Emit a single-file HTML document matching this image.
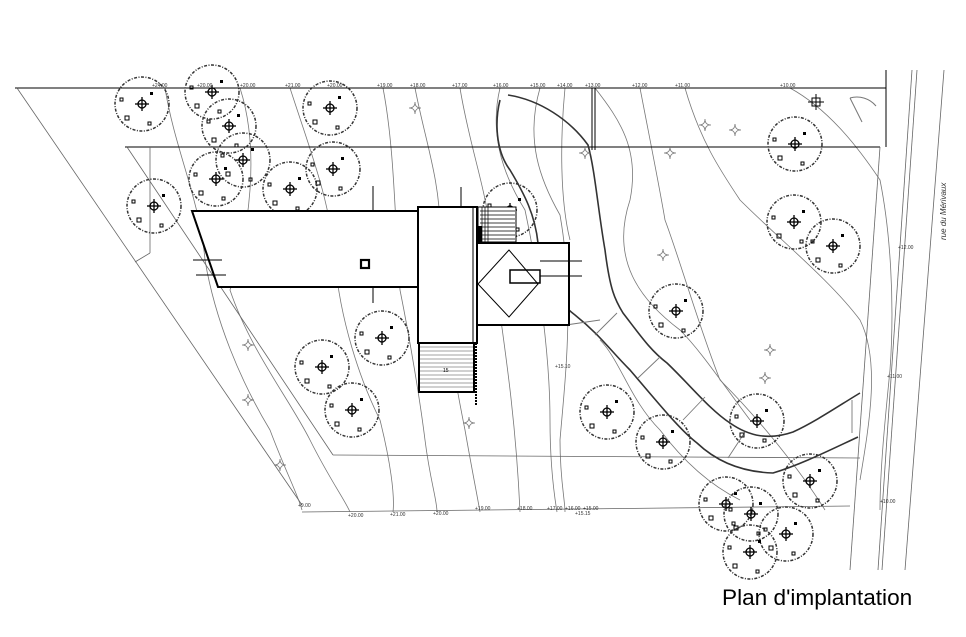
<!DOCTYPE html>
<html><head><meta charset="utf-8"><style>
html,body{margin:0;padding:0;background:#fff;}
svg{display:block;}
</style></head><body>
<svg width="966" height="637" viewBox="0 0 966 637" xmlns="http://www.w3.org/2000/svg">
<defs>
<g id="tr">
<circle r="27" fill="none" stroke="#333" stroke-width="1.5" stroke-dasharray="3 1.5 1 1.5"/>
<circle r="4" fill="none" stroke="#000" stroke-width="1.3"/>
<line x1="-7" y1="0" x2="7" y2="0" stroke="#000" stroke-width="1.3"/>
<line x1="0" y1="-7" x2="0" y2="7" stroke="#000" stroke-width="1.3"/>
<rect x="-17" y="12" width="4" height="4" fill="none" stroke="#000"/>
<rect x="8" y="-12" width="3" height="3" fill="#000"/>
<rect x="-22" y="-6" width="3" height="3" fill="none" stroke="#000"/>
<rect x="6" y="18" width="3" height="3" fill="none" stroke="#000"/>
</g>
<g id="st"><path d="M-6,0 Q0,0 0,-6 Q0,0 6,0 Q0,0 0,6 Q0,0 -6,0Z" fill="none" stroke="#777" stroke-width="0.8"/></g>
</defs>
<g fill="none" stroke="#777" stroke-width="0.8">
<path d="M165,88 C175,150 200,200 205,260 C215,320 240,380 270,430 C285,470 298,495 302,510"/>
<path d="M240,88 C260,150 250,230 230,290 C250,350 290,400 310,440 C330,480 345,500 350,512"/>
<path d="M290,88 C310,150 330,200 335,260 C340,320 360,380 380,420 C390,460 395,495 393,512"/>
<path d="M383,88 C395,150 395,230 400,290 C410,340 420,400 425,440 C430,480 437,500 437,512"/>
<path d="M415,88 C425,140 440,180 440,230 C440,300 455,380 465,430 C472,470 478,500 480,512"/>
<path d="M460,88 C470,150 490,200 490,240 C500,320 515,400 520,512"/>
<path d="M500,88 C490,130 500,170 525,210 C540,280 550,360 550,420 C550,470 555,500 557,512"/>
<path d="M540,88 C525,140 540,180 560,215 C575,300 565,380 560,440 C560,480 565,500 565,512"/>
<path d="M565,88 C560,140 560,200 570,240"/>
<path d="M640,88 C650,140 660,190 665,220 C680,260 700,330 720,380 C760,420 800,470 825,510"/>
<path d="M685,88 C700,140 720,170 740,200 C780,240 830,280 860,320 C880,360 870,420 860,480"/>
<path d="M790,88 C830,110 860,150 880,180 C890,230 895,300 890,370 C885,420 880,470 880,510"/>
<path d="M595,88 C620,120 640,150 630,200 C610,260 640,300 680,330 C700,350 720,380 750,420"/>
<path d="M600,340 C620,360 630,400 660,430 C690,470 720,490 740,500"/>
</g>
<g stroke="#000" stroke-width="1" fill="none">
<line x1="15" y1="88" x2="886" y2="88"/>
<line x1="125" y1="147" x2="880" y2="147"/>
<line x1="886" y1="70" x2="886" y2="147"/>
</g>
<g stroke="#666" stroke-width="0.8" fill="none">
<line x1="17" y1="88" x2="302" y2="505"/>
<line x1="127" y1="147" x2="333" y2="455"/>
<line x1="333" y1="455" x2="860" y2="458"/>
<line x1="302" y1="512" x2="850" y2="506"/>
<line x1="880" y1="147" x2="850" y2="570"/>
<line x1="912" y1="70" x2="878" y2="570"/>
<line x1="917" y1="70" x2="882" y2="570"/>
<line x1="944" y1="70" x2="905" y2="570"/>
<line x1="150" y1="147" x2="150" y2="253"/>
<line x1="150" y1="253" x2="135" y2="262"/>
</g>
<g stroke="#333" stroke-width="1.6" fill="none">
<path d="M508,95 C540,100 570,120 588,145 C595,170 598,210 605,250 C610,290 615,300 623,313 C640,335 650,350 667,363 C690,385 710,410 730,423 C750,437 770,440 793,432 C815,422 840,405 860,393"/>
<path d="M500,100 C495,120 495,150 510,170 C525,195 535,215 538,243 C545,280 555,300 575,315 C600,335 610,350 630,370 C660,405 680,430 697,443 C715,460 740,472 773,473 C800,465 830,450 858,437"/>
</g>
<g stroke="#777" stroke-width="0.9" fill="none">
<line x1="617" y1="313" x2="595" y2="335"/>
<line x1="660" y1="357" x2="638" y2="378"/>
<line x1="705" y1="397" x2="683" y2="420"/>
<line x1="745" y1="432" x2="728" y2="458"/>
<line x1="852" y1="400" x2="852" y2="433"/>
<line x1="566" y1="325" x2="600" y2="320"/>
</g>
<g>
<use href="#tr" x="142" y="104"/><use href="#tr" x="212" y="92"/><use href="#tr" x="229" y="126"/>
<use href="#tr" x="243" y="160"/><use href="#tr" x="216" y="179"/><use href="#tr" x="290" y="189"/>
<use href="#tr" x="333" y="169"/><use href="#tr" x="330" y="108"/><use href="#tr" x="154" y="206"/>
<use href="#tr" x="382" y="338"/><use href="#tr" x="322" y="367"/><use href="#tr" x="352" y="410"/>
<use href="#tr" x="510" y="210"/>
<use href="#tr" x="795" y="144"/><use href="#tr" x="794" y="222"/><use href="#tr" x="833" y="246"/>
<use href="#tr" x="676" y="311"/><use href="#tr" x="607" y="412"/><use href="#tr" x="663" y="442"/>
<use href="#tr" x="757" y="421"/><use href="#tr" x="810" y="481"/><use href="#tr" x="726" y="504"/>
<use href="#tr" x="751" y="514"/><use href="#tr" x="786" y="534"/><use href="#tr" x="750" y="552"/>
</g>
<g>
<use href="#st" x="705" y="125"/><use href="#st" x="735" y="130"/><use href="#st" x="670" y="153"/>
<use href="#st" x="663" y="255"/><use href="#st" x="770" y="350"/><use href="#st" x="765" y="378"/>
<use href="#st" x="248" y="345"/><use href="#st" x="248" y="400"/><use href="#st" x="280" y="465"/>
<use href="#st" x="415" y="108"/><use href="#st" x="469" y="423"/><use href="#st" x="585" y="153"/>
</g>
<g fill="#fff" stroke="#000" stroke-width="2">
<polygon points="192,211 418,211 418,287 218,287"/>
<rect x="418" y="207" width="59" height="136"/>
<rect x="477" y="243" width="92" height="82"/>
</g>
<g stroke="#000" stroke-width="1" fill="none">
<line x1="473" y1="207" x2="473" y2="343"/>
<polygon points="478,284 509,250 538,284 509,317"/>
<rect x="510" y="270" width="30" height="13" stroke-width="1.5"/>
<rect x="361" y="260" width="8" height="8" stroke-width="2.2"/>
<line x1="193" y1="260" x2="222" y2="260"/><line x1="196" y1="275" x2="226" y2="275"/>
<line x1="540" y1="261" x2="582" y2="261"/><line x1="540" y1="276" x2="582" y2="276"/>
<line x1="373" y1="186" x2="373" y2="211"/><line x1="373" y1="287" x2="373" y2="303"/>
<line x1="461" y1="187" x2="461" y2="207"/>
</g>
<rect x="419" y="343" width="55" height="49" fill="#fff" stroke="#000" stroke-width="2"/>
<g stroke="#444" stroke-width="0.6">
<path d="M420,347H473M420,351H473M420,355H473M420,359H473M420,363H473M420,367H473M420,371H473M420,375H473M420,379H473M420,383H473M420,387H473"/>
</g>
<line x1="476" y1="343" x2="476" y2="405" stroke="#000" stroke-width="2" stroke-dasharray="2 1"/>
<text x="443" y="372" font-family="Liberation Sans, sans-serif" font-size="5">15</text>
<rect x="478" y="207" width="38" height="35" fill="#fff" stroke="#000" stroke-width="1"/>
<g stroke="#000" stroke-width="0.7">
<path d="M480,211H515M480,215H515M480,219H515M480,223H515M480,227H515M480,231H515M480,235H515M480,239H515"/>
<path d="M482,207V242M485,207V242M488,207V242"/>
</g>
<rect x="478" y="226" width="4" height="16" fill="#000"/>
<rect x="812" y="98" width="8" height="8" fill="none" stroke="#000"/>
<line x1="808" y1="102" x2="824" y2="102" stroke="#000"/><line x1="816" y1="94" x2="816" y2="110" stroke="#000"/>
<path d="M850,98 L862,122 M850,98 A25,25 0 0 1 876,106" fill="none" stroke="#777"/>
<line x1="592" y1="88" x2="592" y2="150" stroke="#000"/><line x1="595" y1="88" x2="595" y2="150" stroke="#000"/>
<g font-family="Liberation Sans, sans-serif" font-size="5" fill="#333">
<text x="152" y="87">+24.00</text><text x="197" y="87">+20.00</text><text x="240" y="87">+20.00</text>
<text x="285" y="87">+21.00</text><text x="327" y="87">+20.00</text><text x="377" y="87">+19.00</text>
<text x="410" y="87">+18.00</text><text x="452" y="87">+17.00</text><text x="493" y="87">+16.00</text>
<text x="530" y="87">+15.00</text><text x="557" y="87">+14.00</text><text x="585" y="87">+13.00</text>
<text x="632" y="87">+12.00</text><text x="675" y="87">+11.00</text><text x="780" y="87">+10.00</text>
<text x="298" y="507">+9.00</text><text x="348" y="517">+20.00</text><text x="390" y="516">+21.00</text>
<text x="433" y="515">+20.00</text><text x="475" y="510">+19.00</text><text x="517" y="510">+18.00</text>
<text x="547" y="510">+17.00</text><text x="565" y="510">+16.00</text><text x="583" y="510">+15.00</text>
<text x="575" y="515">+15.15</text><text x="555" y="368">+15.10</text>
<text x="898" y="249">+12.00</text><text x="887" y="378">+11.00</text><text x="880" y="503">+10.00</text>
</g>
<text transform="translate(946,240) rotate(-90)" font-family="Liberation Sans, sans-serif" font-size="8" font-style="italic" fill="#333">rue du Mérivaux</text>
<text x="722" y="605" font-family="Liberation Sans, sans-serif" font-size="22.6" fill="#000">Plan d'implantation</text>
</svg>
</body></html>
